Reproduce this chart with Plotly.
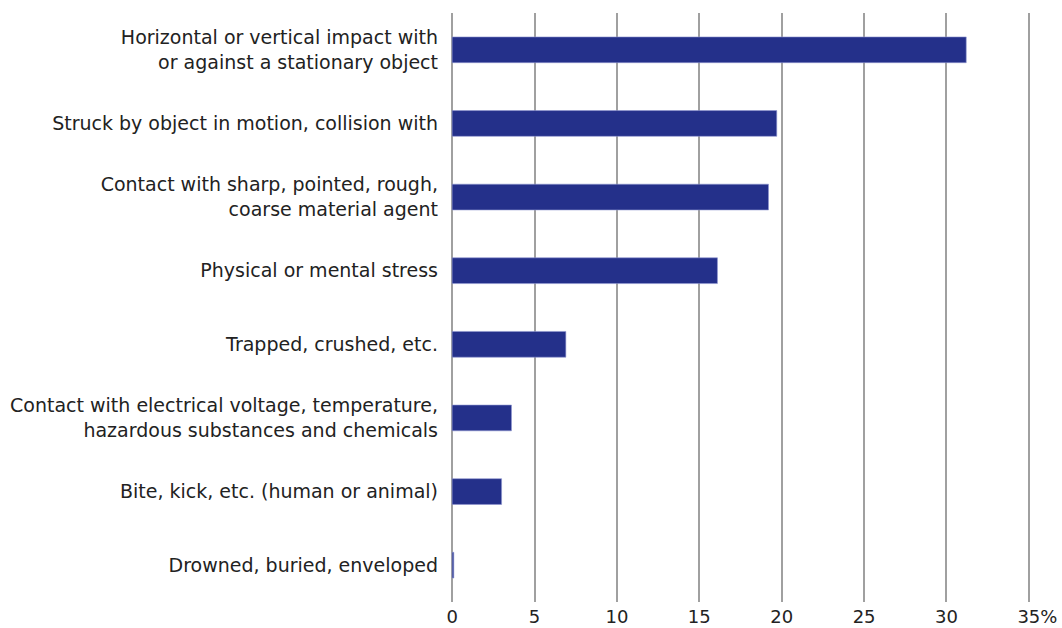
import plotly.graph_objects as go

categories = [
    "Horizontal or vertical impact with<br>or against a stationary object",
    "Struck by object in motion, collision with",
    "Contact with sharp, pointed, rough,<br>coarse material agent",
    "Physical or mental stress",
    "Trapped, crushed, etc.",
    "Contact with electrical voltage, temperature,<br>hazardous substances and chemicals",
    "Bite, kick, etc. (human or animal)",
    "Drowned, buried, enveloped",
]
values = [31.2, 19.7, 19.2, 16.1, 6.9, 3.6, 3.0, 0.1]
tick_vals = [0, 5, 10, 15, 20, 25, 30, 35]
tick_text = ["0", "5", "10", "15", "20", "25", "30", "\u00a0\u00a0\u00a035%"]

fig = go.Figure(go.Bar(
    x=values,
    y=categories,
    orientation="h",
    width=0.35,
    marker=dict(color="#24308A", line=dict(color="#8F96D0", width=0.6)),
))

fig.update_layout(
    width=1062, height=628,
    margin=dict(l=451, r=32, t=13, b=26),
    paper_bgcolor="white", plot_bgcolor="white",
    font=dict(family="DejaVu Sans, Noto Sans, sans-serif", size=19, color="#222222"),
    showlegend=False,
)
fig.update_xaxes(
    range=[-0.07, 35.07], tickvals=tick_vals, ticktext=tick_text,
    showgrid=True, gridcolor="#A0A0A0", gridwidth=2,
    zeroline=False, showline=False, ticks="", automargin=False,
    tickfont=dict(size=18), ticklabelstandoff=2, fixedrange=True,
)
fig.update_yaxes(
    autorange="reversed", showgrid=False, zeroline=False,
    showline=False, ticks="", ticklabelstandoff=12, automargin=False,
    tickfont=dict(size=19), fixedrange=True,
)
fig.write_html(
    "out.html",
    config={"displayModeBar": False},
    post_script="document.body.style.margin='0';document.body.style.overflow='hidden';",
)
